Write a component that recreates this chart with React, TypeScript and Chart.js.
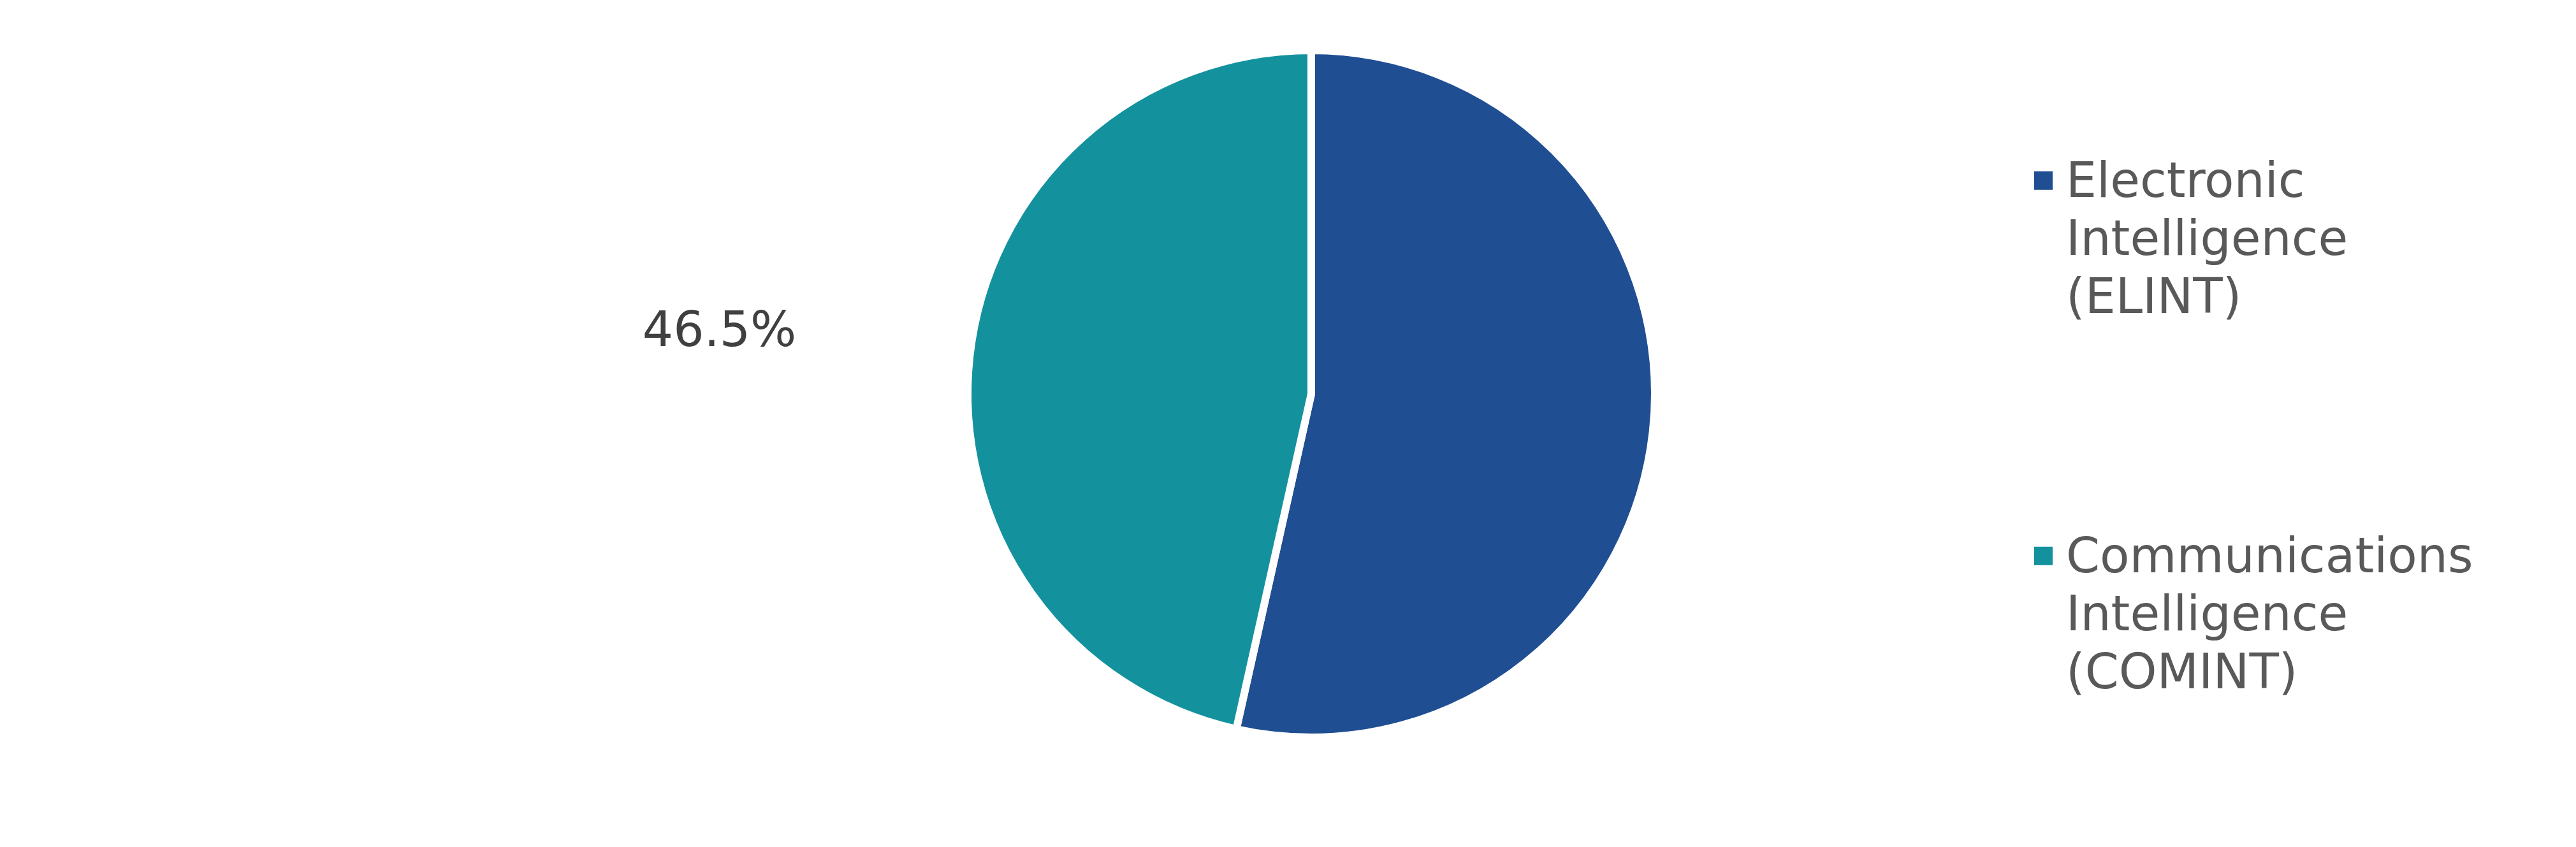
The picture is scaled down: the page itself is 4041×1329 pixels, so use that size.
import React, { useEffect, useRef } from "react";
import { Chart, registerables } from "chart.js";

Chart.register(...registerables);

// ---- data ----
const categories: string[][] = [
  ["Electronic", "Intelligence", "(ELINT)"],
  ["Communications", "Intelligence", "(COMINT)"],
];
const shares: number[] = [53.5, 46.5];
const sliceColors: string[] = ["#1F4E92", "#13929E"];
const showValueLabel: boolean[] = [false, true];

// ---- styling constants ----
const FONT_FAMILY = "'DejaVu Sans', Verdana, sans-serif";
const FONT_SIZE = 76;
const LINE_GAP = 91;
const LEGEND_BOX_X = 3191;
const LEGEND_BOX_SIZE = 29;
const LEGEND_TEXT_X = 3241;
const LEGEND_FIRST_BASELINE = 309;
const LEGEND_ITEM_STEP = 589;
const LEGEND_TEXT_COLOR = "#595959";
const VALUE_TEXT_COLOR = "#404040";
const VALUE_RADIUS_FACTOR = 1.733;

const valueLabelPlugin = {
  id: "valueLabels",
  afterDatasetsDraw(chart: any) {
    const ctx = chart.ctx;
    const meta = chart.getDatasetMeta(0);
    const data = chart.data.datasets[0].data as number[];
    ctx.save();
    ctx.font = `${FONT_SIZE}px ${FONT_FAMILY}`;
    ctx.fillStyle = VALUE_TEXT_COLOR;
    ctx.textAlign = "center";
    ctx.textBaseline = "alphabetic";
    meta.data.forEach((arc: any, i: number) => {
      if (!showValueLabel[i]) return;
      const p = arc.getProps(["x", "y", "startAngle", "endAngle", "outerRadius"], true);
      const mid = (p.startAngle + p.endAngle) / 2;
      const r = p.outerRadius * VALUE_RADIUS_FACTOR;
      const px = p.x + Math.cos(mid) * r;
      const py = p.y + Math.sin(mid) * r + FONT_SIZE * 0.3645;
      ctx.fillText(`${data[i].toFixed(1)}%`, px, py);
    });
    ctx.restore();
  },
};

const legendPlugin = {
  id: "customLegend",
  afterDraw(chart: any) {
    const ctx = chart.ctx;
    const labels = chart.data.labels as string[][];
    const colors = chart.data.datasets[0].backgroundColor as string[];
    ctx.save();
    ctx.font = `${FONT_SIZE}px ${FONT_FAMILY}`;
    ctx.textAlign = "left";
    ctx.textBaseline = "alphabetic";
    labels.forEach((lines, i) => {
      const base = LEGEND_FIRST_BASELINE + i * LEGEND_ITEM_STEP;
      const capMid = base - FONT_SIZE * 0.3645;
      ctx.fillStyle = colors[i];
      ctx.fillRect(LEGEND_BOX_X, capMid - LEGEND_BOX_SIZE / 2 + 2, LEGEND_BOX_SIZE, LEGEND_BOX_SIZE);
      ctx.fillStyle = LEGEND_TEXT_COLOR;
      lines.forEach((line, j) => {
        ctx.fillText(line, LEGEND_TEXT_X, base + j * LINE_GAP);
      });
    });
    ctx.restore();
  },
};

export default function App() {
  const canvasRef = useRef<HTMLCanvasElement | null>(null);

  useEffect(() => {
    if (!canvasRef.current) return;
    const chart = new Chart(canvasRef.current, {
      type: "pie",
      data: {
        labels: categories,
        datasets: [
          {
            data: shares,
            backgroundColor: sliceColors,
            borderColor: "#FFFFFF",
            borderWidth: 12,
            hoverOffset: 0,
          },
        ],
      },
      options: {
        animation: false,
        responsive: true,
        maintainAspectRatio: false,
        devicePixelRatio: 1,
        events: [],
        layout: {
          padding: { top: 73, bottom: 166, left: 1512, right: 1439 },
        },
        plugins: {
          legend: { display: false },
          tooltip: { enabled: false },
          title: { display: false },
        },
      },
      plugins: [valueLabelPlugin, legendPlugin],
    });
    return () => chart.destroy();
  }, []);

  return (
    <div
      style={{
        position: "fixed",
        left: 0,
        top: 0,
        width: "4041px",
        height: "1329px",
        background: "#FFFFFF",
      }}
    >
      <canvas ref={canvasRef} />
    </div>
  );
}
